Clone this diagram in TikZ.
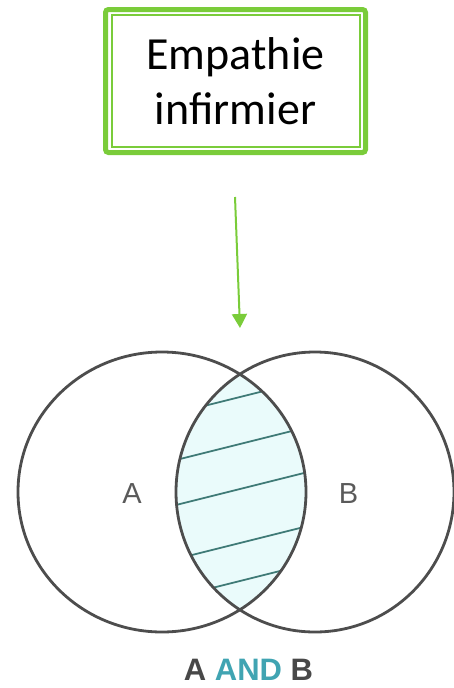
\documentclass[tikz,border=0pt]{standalone}
\usepackage{fontspec}
\setmainfont{Carlito}
\newfontfamily\vennfont{Liberation Sans}
\usepackage{xcolor}
\usetikzlibrary{arrows.meta}

\definecolor{boxgreen}{RGB}{122,204,58}
\definecolor{ringgray}{RGB}{77,77,77}
\definecolor{hatchteal}{RGB}{62,122,118}
\definecolor{lenscyan}{RGB}{234,251,251}
\definecolor{andteal}{RGB}{64,164,178}
\definecolor{labelgray}{RGB}{90,90,90}

\begin{document}
\begin{tikzpicture}[x=1pt, y=-1pt,
    topicbox/.style={draw=boxgreen, line width=5pt, rounded corners=3pt,
      minimum width=260pt, minimum height=143pt, inner sep=0pt, align=center,
      font=\fontsize{46}{55}\selectfont},
    boxinner/.style={draw=boxgreen, line width=2pt},
    pointer/.style={draw=boxgreen, line width=2pt, -{Triangle[length=14pt, width=15pt]}},
    ring/.style={draw=ringgray, line width=2.8pt},
    hatch/.style={draw=hatchteal, line width=1.8pt},
    setlabel/.style={anchor=base, text=labelgray, font=\vennfont\fontsize{29}{32}\selectfont}]
  \useasboundingbox (0, 0) rectangle (454, 688);

  \node[topicbox] (topic) at (235.5, 81) {Empathie\\infirmier};
  \draw[boxinner] ([shift={(8.5pt, 8pt)}]topic.south west) rectangle ([shift={(-8.5pt, -8pt)}]topic.north east);

  \coordinate (arrowtop) at (235, 197);
  \coordinate (arrowtip) at (240, 328);
  \draw[pointer] (arrowtop) -- (arrowtip);

  \coordinate (cA) at (162, 492);
  \coordinate (cB) at (315, 492);

  % shaded overlap
  \begin{scope}
    \clip (cA) ellipse [x radius=144pt, y radius=140pt];
    \fill[lenscyan] (cB) ellipse [x radius=139pt, y radius=140pt];
    \clip (cB) ellipse [x radius=139pt, y radius=140pt];
    \foreach \y in {397, 444, 489, 543, 581}
      \draw[hatch] (160, \y + 20) -- (320, \y - 20);
  \end{scope}

  \draw[ring] (cA) ellipse [x radius=144pt, y radius=140pt];
  \draw[ring] (cB) ellipse [x radius=139pt, y radius=140pt];

  \node[setlabel] (labA) at (132, 503) {A};
  \node[setlabel] (labB) at (348.5, 503) {B};

  \node[anchor=base, inner sep=1pt, font=\vennfont\bfseries\fontsize{31}{34}\selectfont] (caption) at (248.5, 680)
    {\textcolor{labelgray!80!black}{A} \textcolor{andteal}{AND} \textcolor{labelgray!80!black}{B}};
\end{tikzpicture}
\end{document}
